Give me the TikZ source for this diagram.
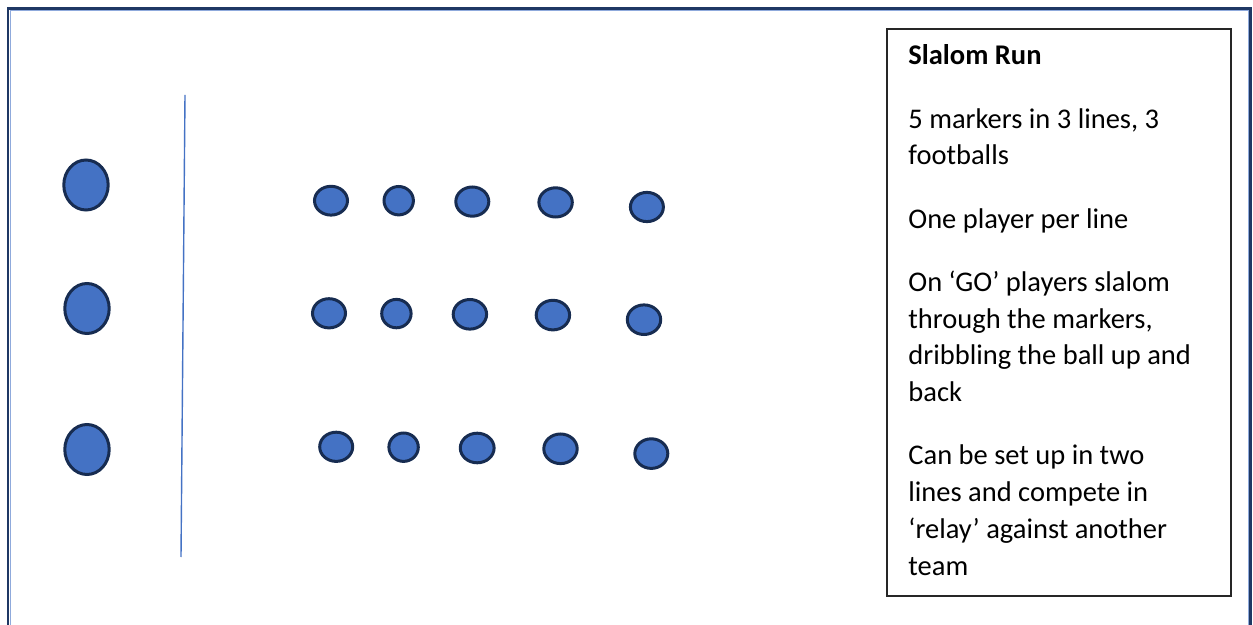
\documentclass[tikz,border=0pt]{standalone}
\usepackage{fontspec}
\setmainfont{Carlito}
\usepackage{tikz}
\usetikzlibrary{positioning}
\definecolor{markfill}{HTML}{4472C4}
\definecolor{markline}{HTML}{172C51}
\definecolor{framenavy}{HTML}{1F3864}
\definecolor{framelight}{HTML}{8FAADC}

\begin{document}
\begin{tikzpicture}[x=0.5pt, y=-0.5pt,
    marker/.style={fill=markfill, draw=markline, line width=1.5pt},
    frameline/.style={draw=framenavy, line width=1.4pt},
    frameinner/.style={draw=framelight, line width=0.5pt},
    infobox/.style={draw=black!85, line width=0.8pt},
    infotext/.style={anchor=base west, align=left, inner sep=0pt,
      font=\fontsize{14.25}{18.35}\selectfont}]
  \useasboundingbox (0,0) rectangle (1253,625);
  \clip (0,0) rectangle (1253,625);
  % ================================================================
  % outer frame
  % ================================================================
  \draw[frameline] (8,8.7) rectangle (1250.3,660);
  \draw[frameinner] (10,10.5) rectangle (1248,660);
  % ================================================================
  % players and start line
  % ================================================================
  \foreach \px/\py in {86/185, 87/308.5, 87/449.5} {
    \filldraw[marker] (\px,\py) ellipse [x radius=22.2, y radius=25];
  }
  \draw[markfill, line width=0.7pt] (185,95) -- (181,557);
  % ================================================================
  % markers, three lines of five
  % ================================================================
  \foreach \mx/\my/\rx/\ry in {331/200.7/16.5/14.4, 398.7/200.7/14.7/14.2, 472.3/201.6/16.5/14.6, 555.6/202.4/16.7/14.6, 646.9/207/16.5/14.6,
                              329/313.3/16.5/14.6, 396.4/313.6/14.7/14.2, 469.9/314.3/16.7/14.8, 552.9/315.1/16.7/14.8, 644/319.7/16.7/14.8,
                              336.2/446.8/16.5/14.6, 403.6/447.2/14.7/14.2, 477.2/448/16.9/14.8, 560.5/448.8/16.7/14.8, 651.3/453.6/16.5/14.8} {
    \filldraw[marker] (\mx,\my) ellipse [x radius=\rx, y radius=\ry];
  }
  % ================================================================
  % description box
  % ================================================================
  \draw[infobox] (887,29) rectangle (1231,596);
  \node[infotext] (desc) at (908,575) {\textbf{Slalom Run}\\[13.3pt]
    5 markers in 3 lines, 3\\
    footballs\\[13.3pt]
    One player per line\\[13.3pt]
    On ‘GO’ players slalom\\
    through the markers,\\
    dribbling the ball up and\\
    back\\[13.3pt]
    Can be set up in two\\
    lines and compete in\\
    ‘relay’ against another\\
    team};
\end{tikzpicture}
\end{document}
